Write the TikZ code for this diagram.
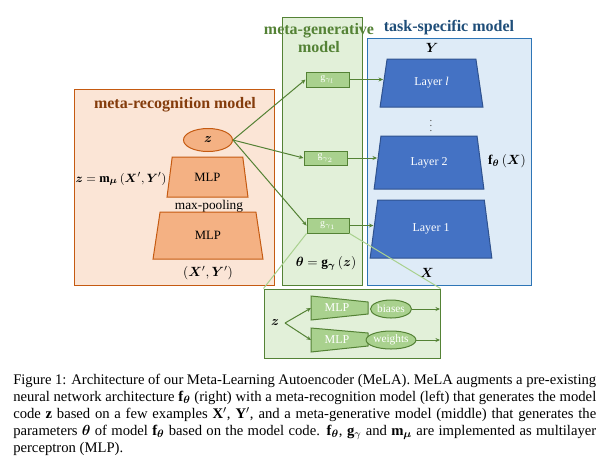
\documentclass[tikz,border=0pt]{standalone}
\usepackage{amsmath}
\usepackage{fontspec}
\setmainfont{Liberation Serif}
\usetikzlibrary{shapes.geometric,arrows.meta}
\newlength\px \setlength\px{0.75pt}
\definecolor{orfill}{HTML}{FBE5D6}
\definecolor{ordraw}{HTML}{C55A11}
\definecolor{orshape}{HTML}{F4B183}
\definecolor{ortitle}{HTML}{843C0C}
\definecolor{grfill}{HTML}{E2F0D9}
\definecolor{grdraw}{HTML}{548235}
\definecolor{grshape}{HTML}{A9D18E}
\definecolor{blfill}{HTML}{DEEBF7}
\definecolor{bldraw}{HTML}{2E75B6}
\definecolor{lyfill}{HTML}{4472C4}
\definecolor{lydraw}{HTML}{2F528F}
\definecolor{bltitle}{HTML}{1F4E79}
\begin{document}
\begin{tikzpicture}[x=0.75pt,y=-0.75pt,
  panel/.style={line width=0.75pt},
  title/.style={font=\fontsize{12}{13.5}\selectfont\bfseries, inner sep=0pt, align=center},
  orshp/.style={trapezium, trapezium stretches=true, fill=orshape, draw=ordraw, line width=0.75pt, inner sep=0pt, font=\fontsize{9.5}{11}\selectfont},
  layerbox/.style={trapezium, trapezium stretches=true, trapezium left angle=76, trapezium right angle=76, fill=lyfill, draw=lydraw, line width=0.75pt, text=white, inner sep=0pt, font=\fontsize{9}{11}\selectfont},
  gbox/.style={rectangle, fill=grshape, draw=grdraw, line width=0.75pt, text=white, inner sep=0pt, minimum width=43\px, minimum height=15\px, font=\fontsize{7.5}{8}\selectfont},
  gell/.style={ellipse, fill=grshape, draw=grdraw, line width=0.75pt, text=white, inner sep=0pt, minimum width=42\px, minimum height=18\px, font=\fontsize{8.5}{10}\selectfont},
  garrow/.style={draw=grdraw, line width=0.75pt, -{Stealth[length=3.4pt,width=3pt]}},
  zoomline/.style={draw=grshape, line width=0.75pt},
  lbl/.style={inner sep=0pt, font=\fontsize{10}{12}\selectfont}
]
\useasboundingbox (0,0) rectangle (605,465);
\fill[white] (0,0) rectangle (605,465);

% panels
\draw[panel, fill=orfill, draw=ordraw] (74,89) rectangle (274,285);
\draw[panel, fill=grfill, draw=grdraw] (282,17) rectangle (362,285);
\draw[panel, fill=blfill, draw=bldraw] (367,38) rectangle (531,285);

% titles
\node[title, text=ortitle] (trec) at (175,105) {meta-recognition model};
\node[title, text=grdraw] (tgen) at (319,38) {meta-generative\\model};
\node[title, text=bltitle] (ttask) at (449,28) {task-specific model};

% meta-recognition model
\node[ellipse, fill=orshape, draw=ordraw, line width=0.75pt, minimum width=49\px, minimum height=23\px, inner sep=0pt, font=\fontsize{10}{12}\selectfont] (z) at (208,140) {$\boldsymbol{z}$};
\node[orshp, trapezium left angle=77, trapezium right angle=77, minimum width=81\px, minimum height=40\px] (mlpa) at (207.5,177) {MLP};
\node[lbl] (pool) at (209,206) {max-pooling};
\node[orshp, trapezium left angle=77, trapezium right angle=77, minimum width=110\px, minimum height=47\px] (mlpb) at (208,235.5) {MLP};
\node[lbl] (xy) at (208,273) {$(\boldsymbol{X}',\boldsymbol{Y}')$};
\node[lbl, font=\fontsize{9.4}{11}\selectfont] (zeq) at (121,179) {$\boldsymbol{z}=\mathbf{m}_{\boldsymbol{\mu}}\,(\boldsymbol{X}',\boldsymbol{Y}')$};

% meta-generative model
\node[gbox] (gl) at (327.5,79.5) {$\mathrm{g}_{\gamma_l}$};
\node[gbox, minimum height=14\px] (g2) at (325.5,158) {$\mathrm{g}_{\gamma_2}$};
\node[gbox, minimum width=42\px] (g1) at (328,225.5) {$\mathrm{g}_{\gamma_1}$};
\node[lbl] (theq) at (326,263) {$\boldsymbol{\theta}=\mathbf{g}_{\boldsymbol{\gamma}}\,(\boldsymbol{z})$};

% task-specific model
\node[layerbox, minimum width=103\px, minimum height=48\px] (Ll) at (431.5,83) {Layer \textit{l}};
\node[inner sep=0pt, font=\fontsize{8}{9}\selectfont, text=black!70] (dots) at (431,122) {$\vdots$};
\node[layerbox, minimum width=110\px, minimum height=53\px] (L2) at (429,162.5) {Layer 2};
\node[layerbox, minimum width=122\px, minimum height=58\px] (L1) at (431,229) {Layer 1};
\node[lbl] (Y) at (432,48) {$\boldsymbol{Y}$};
\node[lbl] (X) at (427,273) {$\boldsymbol{X}$};
\node[lbl] (fx) at (507,161) {$\mathbf{f}_{\boldsymbol{\theta}}\,(\boldsymbol{X})$};

% connectors
\draw[garrow] (z.east) -- (gl.west);
\draw[garrow] (z.east) -- (g2.west);
\draw[garrow] (z.east) -- (g1.west);
\draw[garrow] (gl.east) -- (gl.east -| Ll.west);
\draw[garrow] (g2.east) -- (g2.east -| L2.west);
\draw[garrow] (g1.east) -- (g1.east -| L1.west);

% inset
\node[rectangle, fill=grfill, draw=grdraw, line width=0.75pt, minimum width=176\px, minimum height=69\px, inner sep=0pt] (inset) at (352,323.5) {};
\draw[zoomline] (g1.south west) -- (inset.north west);
\draw[zoomline] (g1.south east) -- (inset.north east);
\node[lbl] (iz) at (275,323) {$\boldsymbol{z}$};
\draw[fill=grshape, draw=grdraw, line width=0.75pt] (311,296) -- (368,302) -- (368,314) -- (311,320) -- cycle;
\draw[fill=grshape, draw=grdraw, line width=0.75pt] (311,328) -- (368,333) -- (368,346) -- (311,352) -- cycle;
\coordinate (ima) at (311,308);
\coordinate (imb) at (311,340);
\node[inner sep=0pt, text=white, font=\fontsize{9}{10}\selectfont] (imlpa) at (337,308) {MLP};
\node[inner sep=0pt, text=white, font=\fontsize{9}{10}\selectfont] (imlpb) at (337,340) {MLP};
\node[gell, minimum width=41\px] (bias) at (391,309) {biases};
\node[gell] (wts) at (391,340) {weights};
\coordinate (bout) at (440,309);
\coordinate (wout) at (440,340);
\coordinate (izs) at (285,323);
\draw[garrow] (izs) -- (ima);
\draw[garrow] (izs) -- (imb);
\draw[garrow] (bias.east) -- (bout);
\draw[garrow] (wts.east) -- (wout);

% caption
\node[anchor=base west, inner sep=0pt] (cap) at (13,384) {\parbox[t]{437.25pt}{\fontsize{11}{12.9}\selectfont\hyphenpenalty=10000\exhyphenpenalty=10000
Figure 1: Architecture of our Meta-Learning Autoencoder (MeLA). MeLA augments a pre-existing\linebreak
neural network architecture $\mathbf{f}_{\boldsymbol{\theta}}$ (right) with a meta-recognition model (left) that generates the model\linebreak
code $\mathbf{z}$ based on a few examples $\mathbf{X}'$, $\mathbf{Y}'$, and a meta-generative model (middle) that generates the\linebreak
parameters $\boldsymbol{\theta}$ of model $\mathbf{f}_{\boldsymbol{\theta}}$ based on the model code. $\mathbf{f}_{\boldsymbol{\theta}}$, $\mathbf{g}_{\gamma}$ and $\mathbf{m}_{\boldsymbol{\mu}}$ are implemented as multilayer\linebreak
perceptron (MLP).}};
\end{tikzpicture}
\end{document}
